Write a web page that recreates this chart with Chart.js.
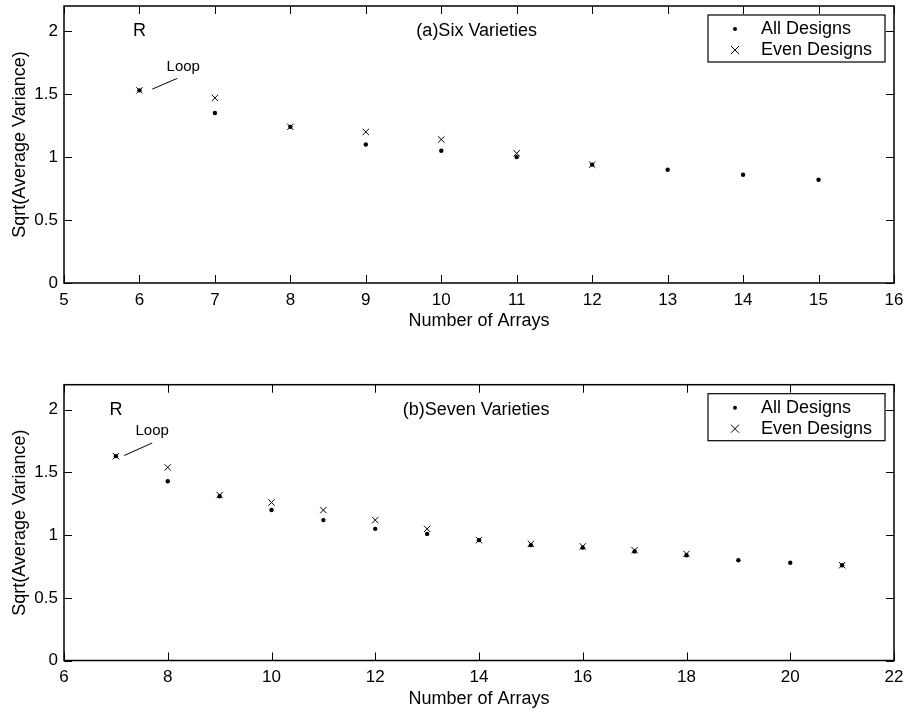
<!DOCTYPE html>
<html>
<head>
<meta charset="utf-8">
<script src="https://cdn.jsdelivr.net/npm/chart.js@4.4.1/dist/chart.umd.min.js"></script>
<style>
  body { margin: 0; background: #fff; }
  canvas { display: block; }
</style>
</head>
<body>
<canvas id="chartSix" width="903" height="334"></canvas>
<canvas id="chartSeven" width="903" height="379"></canvas>
<script>
// ---- (a) six varieties ----
const arraysSix = [6, 7, 8, 9, 10, 11, 12, 13, 14, 15];
const allSix = [1.53, 1.35, 1.24, 1.10, 1.05, 1.00, 0.94, 0.90, 0.86, 0.82];
const evenSix = [1.53, 1.47, 1.24, 1.20, 1.14, 1.03, 0.94, null, null, null];

// ---- (b) seven varieties ----
const arraysSeven = [7, 8, 9, 10, 11, 12, 13, 14, 15, 16, 17, 18, 19, 20, 21];
const allSeven = [1.63, 1.43, 1.31, 1.20, 1.12, 1.05, 1.01, 0.96, 0.92, 0.90, 0.87, 0.84, 0.80, 0.78, 0.76];
const evenSeven = [1.63, 1.54, 1.32, 1.26, 1.20, 1.12, 1.05, 0.96, 0.93, 0.91, 0.88, 0.85, null, null, 0.76];

const yTicks = [0, 0.5, 1, 1.5, 2];
const legendNames = ['All Designs', 'Even Designs'];

// notes: [text, x, y, font size, align]
const notesSix = [['R', 6, 2.0, 18, 'center'], ['(a)Six Varieties', 9.67, 2.0, 18, 'left'], ['Loop', 6.58, 1.72, 15, 'center']];
const leaderSix = [6.17, 1.54, 6.5, 1.625];
const notesSeven = [['R', 7, 2.0, 18, 'center'], ['(b)Seven Varieties', 12.53, 2.0, 18, 'left'], ['Loop', 7.7, 1.83, 15, 'center']];
const leaderSeven = [7.16, 1.635, 7.7, 1.735];

const FONT = '"Liberation Sans", Arial, Helvetica, sans-serif';

function pairs(xs, ys) {
    return xs.map((x, i) => ({ x: x, y: ys[i] })).filter(p => p.y !== null);
}

// box, inward ticks, notes and legend drawn after the datasets
const framePlugin = {
    id: 'frame',
    afterDraw(chart, args, opts) {
        const ctx = chart.ctx;
        const a = chart.chartArea;
        const xs = chart.scales.x, ys = chart.scales.y;
        ctx.save();
        ctx.strokeStyle = '#000';
        ctx.lineWidth = 1;
        ctx.beginPath();
        xs.ticks.forEach(t => {
            const px = Math.round(xs.getPixelForValue(t.value)) + 0.5;
            ctx.moveTo(px, a.bottom); ctx.lineTo(px, a.bottom - 8);
            ctx.moveTo(px, a.top); ctx.lineTo(px, a.top + 8);
        });
        ys.ticks.forEach(t => {
            const py = Math.round(ys.getPixelForValue(t.value)) + 0.5;
            ctx.moveTo(a.left, py); ctx.lineTo(a.left + 8, py);
            ctx.moveTo(a.right, py); ctx.lineTo(a.right - 8, py);
        });
        ctx.stroke();
        ctx.lineWidth = 1.5;
        ctx.strokeRect(a.left, a.top, a.right - a.left, a.bottom - a.top);

        // notes
        ctx.fillStyle = '#000';
        ctx.textBaseline = 'middle';
        opts.notes.forEach(n => {
            ctx.font = n[3] + 'px ' + FONT;
            ctx.textAlign = n[4];
            ctx.fillText(n[0], xs.getPixelForValue(n[1]), ys.getPixelForValue(n[2]));
        });
        const L = opts.leader;
        ctx.lineWidth = 1;
        ctx.beginPath();
        ctx.moveTo(xs.getPixelForValue(L[0]), ys.getPixelForValue(L[1]));
        ctx.lineTo(xs.getPixelForValue(L[2]), ys.getPixelForValue(L[3]));
        ctx.stroke();

        // legend
        const bx = a.right - 9 - 177, by = a.top + 9;
        ctx.fillStyle = '#fff';
        ctx.fillRect(bx, by, 177, 47);
        ctx.lineWidth = 1.2;
        ctx.strokeRect(bx, by, 177, 47);
        ctx.fillStyle = '#000';
        ctx.font = '18px ' + FONT;
        ctx.textAlign = 'left';
        const mx = bx + 27;
        ctx.beginPath();
        ctx.arc(mx, by + 14, 2, 0, Math.PI * 2);
        ctx.fill();
        ctx.fillText(legendNames[0], bx + 53, by + 14);
        ctx.lineWidth = 1;
        ctx.beginPath();
        ctx.moveTo(mx - 4, by + 35 - 4); ctx.lineTo(mx + 4, by + 35 + 4);
        ctx.moveTo(mx - 4, by + 35 + 4); ctx.lineTo(mx + 4, by + 35 - 4);
        ctx.stroke();
        ctx.fillText(legendNames[1], bx + 53, by + 35);
        ctx.restore();
    }
};

function makeChart(id, xs, all, even, xmin, xmax, xstep, padTop, axisH, titlePad, notes, leader) {
    return new Chart(document.getElementById(id), {
        type: 'scatter',
        data: {
            datasets: [
                { label: legendNames[0], data: pairs(xs, all), pointStyle: 'circle', pointRadius: 2.2, backgroundColor: '#000', borderWidth: 0 },
                { label: legendNames[1], data: pairs(xs, even), pointStyle: 'crossRot', pointRadius: 4.5, borderColor: '#000', borderWidth: 1 }
            ]
        },
        options: {
            responsive: false,
            animation: false,
            events: [],
            layout: { padding: { left: 0, right: 9, top: padTop, bottom: 0 } },
            plugins: { legend: { display: false }, tooltip: { enabled: false }, frame: { notes: notes, leader: leader } },
            scales: {
                x: {
                    type: 'linear', min: xmin, max: xmax,
                    grid: { display: false, drawTicks: false },
                    border: { display: false },
                    ticks: { stepSize: xstep, includeBounds: false, color: '#000', padding: 7, font: { family: FONT, size: 17 }, maxRotation: 0 },
                    title: { display: true, text: 'Number of Arrays', color: '#000', font: { family: FONT, size: 18 }, padding: { top: 0, bottom: titlePad } },
                    afterFit(s) { s.height = axisH; s.paddingLeft = 0; s.paddingRight = 0; }
                },
                y: {
                    type: 'linear', min: 0, max: 2.2,
                    grid: { display: false, drawTicks: false },
                    border: { display: false },
                    afterBuildTicks(s) { s.ticks = yTicks.map(v => ({ value: v })); },
                    ticks: { color: '#000', padding: 6, font: { family: FONT, size: 17 }, callback: v => String(v) },
                    title: { display: true, text: 'Sqrt(Average Variance)', color: '#000', font: { family: FONT, size: 18 }, padding: { top: 9, bottom: 0 } },
                    afterFit(s) { s.width = 64; s.paddingTop = 0; s.paddingBottom = 0; }
                }
            }
        },
        plugins: [framePlugin]
    });
}

makeChart('chartSix', arraysSix, allSix, evenSix, 5, 16, 1, 6, 51, 2, notesSix, leaderSix);
makeChart('chartSeven', arraysSeven, allSeven, evenSeven, 6, 22, 2, 50.7, 52.5, 3, notesSeven, leaderSeven);
</script>
</body>
</html>
